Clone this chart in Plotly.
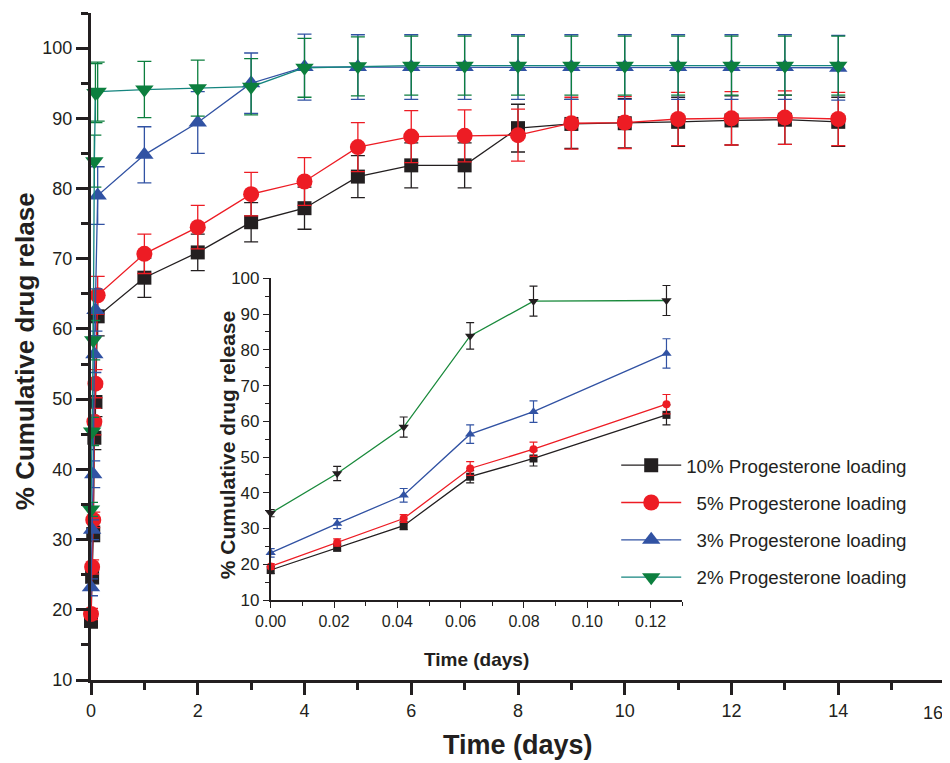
import plotly.graph_objects as go

# ---------------- data ----------------
time_early = [0, 0.021, 0.042, 0.063, 0.083, 0.125]
time_late = [1, 2, 3, 4, 5, 6, 7, 8, 9, 10, 11, 12, 13, 14]

names = ["10% Progesterone loading", "\u00a0\u00a05% Progesterone loading",
         "\u00a0\u00a03% Progesterone loading", "\u00a0\u00a02% Progesterone loading"]

p10_early = [18.4, 24.7, 30.8, 44.5, 49.6, 61.8]
p10_late = [67.3, 70.9, 75.2, 77.2, 81.7, 83.3, 83.3, 88.6, 89.2, 89.3, 89.5, 89.7, 89.8, 89.5]
p10_err_early = [1.0, 1.0, 1.1, 1.7, 2.1, 2.8]
p10_err_late = [2.8, 2.6, 2.8, 3.0, 3.0, 3.2, 3.2, 3.4, 3.5, 3.5, 3.5, 3.5, 3.5, 3.5]

p5_early = [19.4, 26.1, 32.8, 46.8, 52.2, 64.8]
p5_late = [70.7, 74.5, 79.2, 81.0, 85.9, 87.4, 87.5, 87.6, 89.3, 89.4, 89.9, 90.0, 90.1, 89.9]
p5_err_early = [0.8, 1.0, 1.1, 1.9, 2.0, 2.7]
p5_err_late = [2.8, 3.1, 3.1, 3.4, 3.5, 3.7, 3.7, 3.7, 3.7, 3.7, 3.8, 3.8, 3.8, 3.8]

p3_early = [23.2, 31.4, 39.3, 56.4, 62.7, 79.0]
p3_late = [84.8, 89.4, 95.0, 97.3, 97.3, 97.3, 97.3, 97.3, 97.3, 97.3, 97.3, 97.3, 97.3, 97.2]
p3_err_early = [1.2, 1.4, 1.9, 2.6, 3.0, 4.1]
p3_err_late = [4.0, 4.4, 4.3, 4.7, 4.6, 4.6, 4.6, 4.6, 4.6, 4.6, 4.6, 4.6, 4.6, 4.6]

p2_early = [34.3, 45.4, 58.4, 83.9, 93.6, 93.8]
p2_late = [94.1, 94.3, 94.5, 97.2, 97.4, 97.5, 97.5, 97.5, 97.5, 97.5, 97.5, 97.5, 97.5, 97.5]
p2_err_early = [1.0, 2.0, 2.8, 3.7, 4.2, 4.2]
p2_err_late = [4.0, 4.0, 4.0, 4.2, 4.2, 4.2, 4.2, 4.2, 4.2, 4.2, 4.2, 4.2, 4.2, 4.2]

x_ticks_main = [0, 2, 4, 6, 8, 10, 12, 14, 16]
x_ticktext_main = ["0", "2", "4", "6", "8", "10", "12", "14", ""]
last_x_tick = 16
last_x_label = "16"

main_x_title = "Time (days)"
main_y_title = "% Cumulative drug relase"
inset_x_title = "Time (days)"
inset_y_title = "% Cumulative drug release"

# ---------------- styles ----------------
BLACK = "#231f20"
RED = "#ed1c24"
BLUE = "#3152a3"
GREEN = "#0c7f3e"
TEAL = "#15857f"
INSET_GREEN = "#1a8a3c"
FONT = "Liberation Sans, Arial, sans-serif"

series = [
    dict(name=names[0], early=p10_early, late=p10_late, ee=p10_err_early, el=p10_err_late,
         line=BLACK, marker=BLACK, err=BLACK, symbol="square", size=14,
         iline=BLACK, imarker=BLACK, ierr=BLACK, isize=8),
    dict(name=names[1], early=p5_early, late=p5_late, ee=p5_err_early, el=p5_err_late,
         line=RED, marker=RED, err=RED, symbol="circle", size=16,
         iline=RED, imarker=RED, ierr=RED, isize=8),
    dict(name=names[2], early=p3_early, late=p3_late, ee=p3_err_early, el=p3_err_late,
         line=BLUE, marker=BLUE, err=BLUE, symbol="triangle-up", size=16,
         iline=BLUE, imarker=BLUE, ierr=BLUE, isize=9),
    dict(name=names[3], early=p2_early, late=p2_late, ee=p2_err_early, el=p2_err_late,
         line=TEAL, marker=GREEN, err=GREEN, symbol="triangle-down", size=16,
         iline=INSET_GREEN, imarker=BLACK, ierr=BLACK, isize=9),
]

fig = go.Figure()

for i, s in enumerate(series):
    fig.add_trace(go.Scatter(
        x=time_early + time_late, y=s["early"] + s["late"],
        mode="lines+markers", name=s["name"], legendgroup=str(i),
        line=dict(color=s["line"], width=1.3),
        marker=dict(symbol=s["symbol"], size=s["size"], color=s["marker"], line=dict(width=0)),
        error_y=dict(type="data", array=s["ee"] + s["el"], color=s["err"], thickness=1.3, width=7),
        cliponaxis=False, xaxis="x", yaxis="y",
    ))

for i, s in enumerate(series):
    fig.add_trace(go.Scatter(
        x=time_early, y=s["early"], mode="lines+markers", showlegend=False,
        line=dict(color=s["iline"], width=1.3),
        marker=dict(symbol=s["symbol"], size=s["isize"], color=s["imarker"], line=dict(width=0)),
        error_y=dict(type="data", array=s["ee"], color=s["ierr"], thickness=1.2, width=4),
        cliponaxis=False, xaxis="x2", yaxis="y2",
    ))

axis_font = dict(family=FONT, size=18, color=BLACK)
fig.update_layout(
    width=950, height=763,
    # the page body adds an 8px offset; margins compensate so the plot lands in place
    margin=dict(l=83, r=13, t=5, b=91),
    paper_bgcolor="white", plot_bgcolor="white",
    font=dict(family=FONT, color=BLACK),
    showlegend=True,
    legend=dict(x=0.615, y=0.35, xanchor="left", yanchor="top",
                font=dict(family=FONT, size=18.7, color=BLACK),
                bgcolor="rgba(0,0,0,0)", traceorder="grouped", tracegroupgap=10,
                itemwidth=60),
    xaxis=dict(domain=[0, 1], range=[0, 16], tickvals=x_ticks_main, ticktext=x_ticktext_main,
               automargin=False,
               showgrid=False, zeroline=False,
               showline=True, linecolor=BLACK, linewidth=3, ticks="outside", ticklen=12,
               tickwidth=2.5, tickcolor=BLACK, tickfont=axis_font,
               minor=dict(dtick=1, ticks="outside", ticklen=7, tickwidth=2.5, tickcolor=BLACK)),
    yaxis=dict(domain=[0, 1], range=[10, 105], dtick=10, tick0=10, showgrid=False, zeroline=False,
               automargin=False,
               showline=True, linecolor=BLACK, linewidth=3, ticks="outside", ticklen=12,
               tickwidth=2.5, tickcolor=BLACK, tickfont=axis_font,
               minor=dict(dtick=5, tick0=10, ticks="outside", ticklen=7, tickwidth=2.5, tickcolor=BLACK)),
    xaxis2=dict(domain=[0.2104, 0.6924], anchor="y2", range=[0, 0.13], dtick=0.02, tick0=0,
                tickformat=".2f", showgrid=False, zeroline=False, showline=True, linecolor=BLACK,
                automargin=False,
                linewidth=1.5, ticks="outside", ticklen=6, tickwidth=1.3, tickcolor=BLACK,
                tickfont=dict(family=FONT, size=16, color=BLACK),
                minor=dict(dtick=0.01, ticks="outside", ticklen=4, tickwidth=1.3, tickcolor=BLACK)),
    yaxis2=dict(domain=[0.1199, 0.6022], anchor="x2", range=[10, 100], dtick=10, tick0=10,
                automargin=False,
                showgrid=False, zeroline=False, showline=True, linecolor=BLACK, linewidth=1.5,
                ticks="outside", ticklen=6, tickwidth=1.3, tickcolor=BLACK,
                tickfont=dict(family=FONT, size=17, color=BLACK),
                minor=dict(dtick=5, tick0=10, ticks="outside", ticklen=4, tickwidth=1.3, tickcolor=BLACK)),
    annotations=[
        dict(text=last_x_label, xref="x", yref="paper", x=last_x_tick, y=-0.032,
             showarrow=False, xanchor="right", yanchor="top", xshift=0,
             font=axis_font),
        dict(text="<b>" + main_x_title + "</b>", xref="paper", yref="paper", x=0.5, y=-0.0975,
             showarrow=False, xanchor="center", yanchor="middle",
             font=dict(family=FONT, size=27, color=BLACK)),
        dict(text="<b>" + main_y_title + "</b>", xref="paper", yref="paper", x=-0.0773, y=0.493,
             showarrow=False, xanchor="center", yanchor="middle", textangle=-90,
             font=dict(family=FONT, size=26, color=BLACK)),
        dict(text="<b>" + inset_x_title + "</b>", xref="paper", yref="paper", x=0.451, y=0.030,
             showarrow=False, xanchor="center", yanchor="middle",
             font=dict(family=FONT, size=19, color=BLACK)),
        dict(text="<b>" + inset_y_title + "</b>", xref="paper", yref="paper", x=0.1593, y=0.352,
             showarrow=False, xanchor="center", yanchor="middle", textangle=-90,
             font=dict(family=FONT, size=21, color=BLACK)),
    ],
)

fig.write_html("out.html")
